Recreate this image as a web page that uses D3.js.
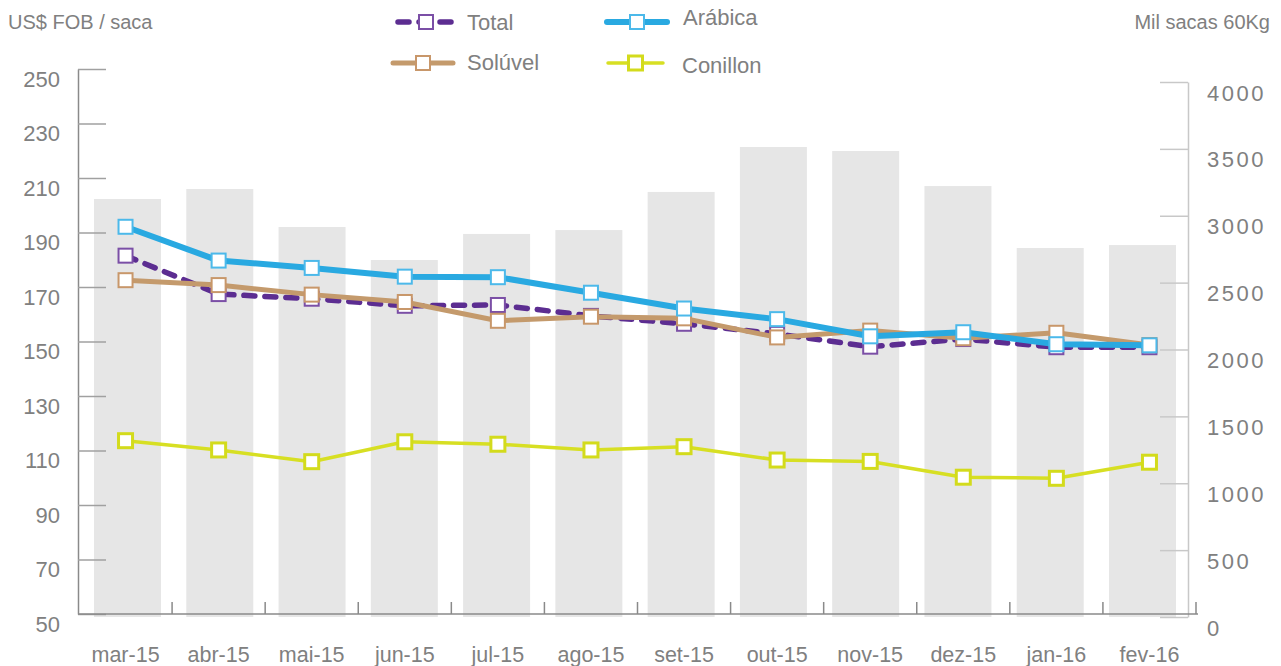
<!DOCTYPE html>
<html>
<head>
<meta charset="utf-8">
<script src="https://cdn.jsdelivr.net/npm/d3@7"></script>
<style>
  body { margin: 0; background: #fff; }
  text { font-family: "Liberation Sans", Arial, sans-serif; fill: #808080; }
</style>
</head>
<body>
<div id="chart"></div>
<script>
// data
var months = ["mar-15", "abr-15", "mai-15", "jun-15", "jul-15", "ago-15",
  "set-15", "out-15", "nov-15", "dez-15", "jan-16", "fev-16"];

// volume (Mil sacas 60Kg) - grey bars, right axis
var volume = [3125, 3200, 2916, 2669, 2864, 2893, 3178, 3514, 3484, 3222, 2759, 2781];

// prices (US$ FOB / saca) - left axis
var total = [181.5, 167.4, 165.7, 163.1, 163.4, 159.4, 156.5, 152.8, 148.1, 150.9, 147.9, 147.9];
var arabica = [192.1, 179.7, 177.0, 173.8, 173.6, 167.9, 162.1, 158.2, 151.9, 153.4, 149.0, 148.6];
var soluvel = [172.5, 170.7, 167.2, 164.5, 157.6, 159.1, 158.5, 151.5, 154.0, 151.2, 153.2, 148.7];
var conillon = [113.6, 110.2, 105.9, 113.2, 112.3, 110.2, 111.4, 106.5, 106.0, 100.2, 99.8, 105.7];

var leftTicks = [50, 70, 90, 110, 130, 150, 170, 190, 210, 230, 250];
var rightTicks = [0, 500, 1000, 1500, 2000, 2500, 3000, 3500, 4000];

var svgWidth = 1281;
var svgHeight = 666;

var svg = d3.select("#chart")
  .append("svg")
  .attr("width", svgWidth)
  .attr("height", svgHeight);

// scales
var xCat = d3.scaleBand()
  .domain(months)
  .range([79, 1196]);

var xBar = d3.scaleBand()
  .domain(months)
  .range([94, 1176])
  .paddingInner(0.274);

var yLeft = d3.scaleLinear()
  .domain([50, 250])
  .range([614, 69]);

var yRight = d3.scaleLinear()
  .domain([0, 4000])
  .range([617, 82]);

// bars
svg.append("g")
  .selectAll("rect")
  .data(volume)
  .enter()
  .append("rect")
  .attr("x", (d, i) => xBar(months[i]))
  .attr("y", d => yRight(d))
  .attr("width", xBar.bandwidth())
  .attr("height", d => yRight(0) - yRight(d))
  .attr("fill", "#e6e6e6");

// left axis, ticks pointing inwards
var leftAxis = d3.axisLeft(yLeft)
  .tickValues(leftTicks)
  .tickSize(-28)
  .tickSizeOuter(0)
  .tickPadding(18);

var gLeft = svg.append("g")
  .attr("transform", "translate(78,0)")
  .call(leftAxis);
gLeft.select(".domain").attr("stroke", "#8a8a8a").attr("stroke-width", 1.5);
gLeft.selectAll(".tick line").attr("stroke", "#a0a0a0").attr("stroke-width", 1.5);
gLeft.selectAll(".tick text")
  .attr("y", 10)
  .style("font-size", "22px")
  .attr("fill", "#808080");

// right axis
var rightAxis = d3.axisRight(yRight)
  .tickValues(rightTicks)
  .tickFormat(d3.format("d"))
  .tickSize(-28)
  .tickSizeOuter(0)
  .tickPadding(19);

var gRight = svg.append("g")
  .attr("transform", "translate(1188,0)")
  .call(rightAxis);
gRight.select(".domain").attr("stroke", "#c8c8c8").attr("stroke-width", 1.5);
gRight.selectAll(".tick line").attr("stroke", "#c8c8c8").attr("stroke-width", 1.5);
gRight.selectAll(".tick text")
  .attr("y", 11)
  .style("font-size", "22px")
  .style("letter-spacing", "2.5px")
  .attr("fill", "#808080");

// x axis baseline with ticks between categories
svg.append("line")
  .attr("x1", 78)
  .attr("x2", 1198)
  .attr("y1", 614)
  .attr("y2", 614)
  .attr("stroke", "#8a8a8a")
  .attr("stroke-width", 1.5);

svg.append("g")
  .selectAll("line")
  .data(months)
  .enter()
  .append("line")
  .attr("x1", d => xCat(d) + xCat.step())
  .attr("x2", d => xCat(d) + xCat.step())
  .attr("y1", 614)
  .attr("y2", 602)
  .attr("stroke", "#8a8a8a")
  .attr("stroke-width", 1.5);

var bottomAxis = d3.axisBottom(xCat)
  .tickSize(0)
  .tickPadding(0);

var gBottom = svg.append("g")
  .attr("transform", "translate(0,614)")
  .call(bottomAxis);
gBottom.select(".domain").remove();
gBottom.selectAll(".tick text")
  .attr("y", 48)
  .attr("dy", 0)
  .style("font-size", "21.5px")
  .attr("fill", "#808080");

// series
var series = [
  {name: "Total", values: total, color: "#5c2d91", marker: "#7b4fa6", width: 5.5, dash: "11,10", mw: 2},
  {name: "Solúvel", values: soluvel, color: "#c49a6c", marker: "#c8976a", width: 5, dash: null, mw: 2},
  {name: "Arábica", values: arabica, color: "#29a9e1", marker: "#4cb9ea", width: 6, dash: null, mw: 2},
  {name: "Conillon", values: conillon, color: "#d7df23", marker: "#d3db1c", width: 3.5, dash: null, mw: 3}
];

var line = d3.line()
  .x((d, i) => xCat(months[i]) + xCat.bandwidth() / 2)
  .y(d => yLeft(d));

var ms = 14;

series.forEach(function(s) {
  svg.append("path")
    .datum(s.values)
    .attr("d", line)
    .attr("fill", "none")
    .attr("stroke", s.color)
    .attr("stroke-width", s.width)
    .attr("stroke-linecap", s.dash ? "round" : "butt")
    .attr("stroke-linejoin", "round")
    .attr("stroke-dasharray", s.dash);

  svg.append("g")
    .selectAll("rect")
    .data(s.values)
    .enter()
    .append("rect")
    .attr("x", (d, i) => xCat(months[i]) + xCat.bandwidth() / 2 - ms / 2)
    .attr("y", d => yLeft(d) - ms / 2)
    .attr("width", ms)
    .attr("height", ms)
    .attr("fill", "#fff")
    .attr("stroke", s.marker)
    .attr("stroke-width", s.mw);
});

// axis titles
svg.append("text")
  .attr("x", 8)
  .attr("y", 29)
  .style("font-size", "20px")
  .text("US$ FOB / saca");

svg.append("text")
  .attr("x", 1270)
  .attr("y", 29)
  .attr("text-anchor", "end")
  .style("font-size", "20px")
  .text("Mil sacas 60Kg");

// legend
var legend = [
  {s: series[0], x1: 395, x2: 457, y: 22, tx: 467, ty: 22},
  {s: series[2], x1: 607, x2: 667, y: 22, tx: 683, ty: 17},
  {s: series[1], x1: 393, x2: 453, y: 63, tx: 467, ty: 62},
  {s: series[3], x1: 608, x2: 663, y: 63, tx: 682, ty: 65}
];

legend.forEach(function(l) {
  svg.append("line")
    .attr("x1", l.x1 + (l.s.dash ? 3 : 0))
    .attr("x2", l.x2 - (l.s.dash ? 3 : 0))
    .attr("y1", l.y)
    .attr("y2", l.y)
    .attr("stroke", l.s.color)
    .attr("stroke-width", l.s.width)
    .attr("stroke-linecap", "round")
    .attr("stroke-dasharray", l.s.dash);

  svg.append("rect")
    .attr("x", (l.x1 + l.x2) / 2 - ms / 2)
    .attr("y", l.y - ms / 2)
    .attr("width", ms)
    .attr("height", ms)
    .attr("fill", "#fff")
    .attr("stroke", l.s.marker)
    .attr("stroke-width", l.s.mw);

  svg.append("text")
    .attr("x", l.tx)
    .attr("y", l.ty)
    .attr("dy", "0.35em")
    .style("font-size", "22px")
    .text(l.s.name);
});
</script>
</body>
</html>
